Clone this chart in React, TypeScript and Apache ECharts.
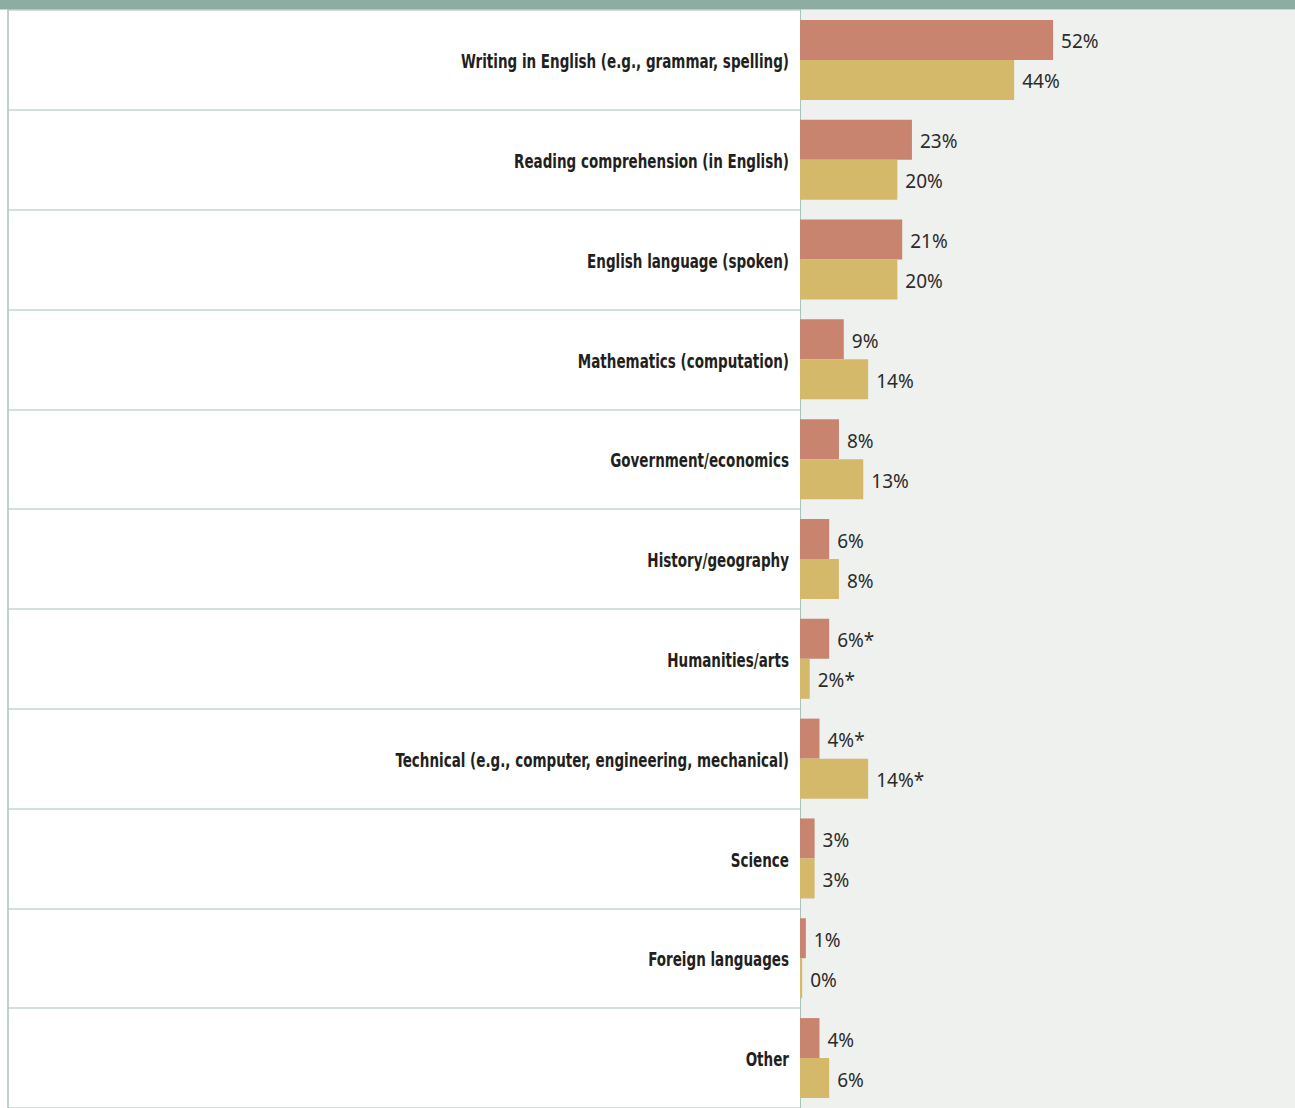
import React, { useEffect, useRef } from "react";
import * as echarts from "echarts";

const categories = [
  "Writing in English (e.g., grammar, spelling)",
  "Reading comprehension (in English)",
  "English language (spoken)",
  "Mathematics (computation)",
  "Government/economics",
  "History/geography",
  "Humanities/arts",
  "Technical (e.g., computer, engineering, mechanical)",
  "Science",
  "Foreign languages",
  "Other",
];
const seriesA = [52, 23, 21, 9, 8, 6, 6, 4, 3, 1.2, 4];
const seriesB = [44, 20, 20, 14, 13, 8, 2, 14, 3, 0.45, 6];
const markA = ["", "", "", "", "", "", "*", "*", "", "", ""];
const markB = ["", "", "", "", "", "", "*", "*", "", "", ""];

export default function App() {
  const ref = useRef<HTMLDivElement>(null);
  useEffect(() => {
    if (!ref.current) return;
    const chart = echarts.init(ref.current, null, { renderer: "svg" });
    const valueLabel = (marks: string[]) => ({
      show: true,
      position: "right" as const,
      distance: 8,
      offset: [0, 1.5],
      fontFamily: "Noto Sans",
      fontSize: 19,
      color: "#2b2b2b",
      formatter: (p: any) => `${Math.round(p.value)}%${marks[p.dataIndex]}`,
    });
    chart.setOption({
      animation: false,
      grid: [
        {
          left: 800,
          right: 0,
          top: 10,
          bottom: 0,
          show: true,
          backgroundColor: "#eff1ee",
          borderWidth: 0,
        },
        {
          left: 8,
          width: 792,
          top: 10,
          bottom: 0,
          show: true,
          backgroundColor: "#ffffff",
          borderWidth: 0,
        },
      ],
      xAxis: [
        { type: "value", gridIndex: 0, min: 0, max: 101.7, show: false },
        { type: "value", gridIndex: 1, min: 0, max: 1, show: false },
      ],
      yAxis: [
        {
          type: "category",
          gridIndex: 0,
          data: categories,
          inverse: true,
          axisLine: { show: true, lineStyle: { color: "#a9c4bb", width: 1 } },
          axisTick: { show: false },
          splitLine: { show: false },
          axisLabel: { show: false },
        },
        {
          type: "category",
          gridIndex: 1,
          data: categories,
          inverse: true,
          axisLine: { show: true, lineStyle: { color: "#a9c4bb", width: 1.5 } },
          axisTick: { show: false },
          axisLabel: { show: false },
          splitLine: { show: true, lineStyle: { color: "#c5d6cf", width: 1.5 } },
        },
      ],
      series: [
        {
          type: "bar",
          xAxisIndex: 0,
          yAxisIndex: 0,
          data: seriesA,
          barWidth: 40,
          barGap: "0%",
          z: 5,
          itemStyle: { color: "#c8846e" },
          label: valueLabel(markA),
        },
        {
          type: "bar",
          xAxisIndex: 0,
          yAxisIndex: 0,
          data: seriesB,
          barWidth: 40,
          barGap: "0%",
          z: 5,
          itemStyle: { color: "#d4b96b" },
          label: valueLabel(markB),
        },
      ],
    });
    const labelX = 789;
    const labels = categories.map((name) => {
      const y = chart.convertToPixel({ yAxisIndex: 0 }, name) as number;
      return {
        type: "text",
        x: labelX,
        y: y + 1.5,
        scaleX: 0.79,
        scaleY: 1,
        z: 50,
        style: {
          text: name,
          x: 0,
          y: 0,
          align: "right",
          verticalAlign: "middle",
          fontFamily: "DejaVu Sans Condensed",
          fontWeight: "bold",
          fontSize: 19,
          fill: "#231f20",
        },
      };
    });
    chart.setOption({
      graphic: [
        {
          type: "rect",
          shape: { x: 0, y: 0, width: 1295, height: 9.5 },
          style: { fill: "#8dada3" },
          z: 100,
        },
        ...labels,
      ],
    });
    return () => chart.dispose();
  }, []);
  return (
    <div
      ref={ref}
      style={{ position: "absolute", left: 0, top: 0, width: 1295, height: 1108 }}
    />
  );
}
